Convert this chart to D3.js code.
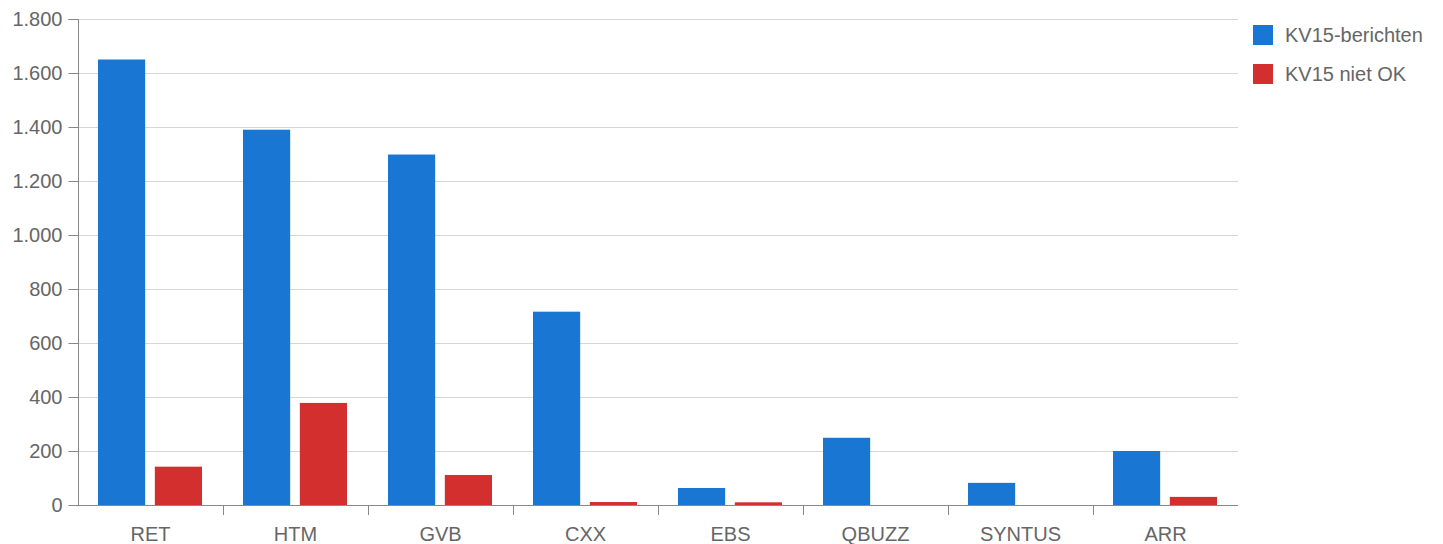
<!DOCTYPE html>
<html><head><meta charset="utf-8">
<script src="https://cdn.jsdelivr.net/npm/d3@7"></script>
<style>body{margin:0;background:#fff;font-family:"Liberation Sans",Arial,sans-serif;}</style>
</head><body><svg id="c" width="1443" height="544"></svg>
<script>
const categories = ["RET","HTM","GVB","CXX","EBS","QBUZZ","SYNTUS","ARR"];
const seriesNames = ["KV15-berichten","KV15 niet OK"];
const berichten = [1650,1390,1298,716,63,249,82,200];
const nietOK = [142,378,111,11,10,0,0,30];
const yTicks = [0,200,400,600,800,1000,1200,1400,1600,1800];
const colors = ["#1976d2","#d32f2f"];

const svg = d3.select("#c");
const m = {l:78, r:1238, t:19, b:505};
const x = d3.scaleBand().domain(categories).range([m.l,m.r]);
const xs = d3.scaleBand().domain([0,1]).range([20,124]).paddingInner(0.17);
const y = d3.scaleLinear().domain([0,1800]).range([m.b,m.t]);
const fmt = d3.formatLocale({decimal:",",thousands:".",grouping:[3],currency:["€",""]}).format(",d");
const FS = 20;

// gridlines
svg.append("g").selectAll("line").data(yTicks.filter(d=>d>0)).join("line")
  .attr("x1",m.l).attr("x2",m.r).attr("y1",d=>y(d)+0.5).attr("y2",d=>y(d)+0.5)
  .attr("stroke","#d6d6d6").attr("stroke-width",1);

// y axis
const ya = svg.append("g").attr("transform",`translate(${m.l+0.5},0)`)
  .call(d3.axisLeft(y).tickValues(yTicks).tickFormat(fmt).tickSize(10).tickPadding(6));
ya.select(".domain").attr("stroke","#888").attr("d",`M-10,${y(1800)+0.5}H0V${y(0)+0.5}`);
ya.selectAll(".tick line").attr("stroke","#888");
ya.selectAll(".tick text").attr("font-size",FS).attr("fill","#666").attr("font-family","Liberation Sans, Arial, sans-serif");

// bars
const data = categories.map((c,i)=>({c, v:[berichten[i],nietOK[i]]}));
const g = svg.append("g").selectAll("g").data(data).join("g").attr("transform",d=>`translate(${x(d.c)},0)`);
g.selectAll("rect").data(d=>d.v.map((v,k)=>({v,k}))).join("rect")
  .attr("x",d=>xs(d.k)).attr("width",xs.bandwidth())
  .attr("y",d=>y(d.v)).attr("height",d=>y(0)-y(d.v))
  .attr("fill",d=>colors[d.k]);

// x axis
const xa = svg.append("g").attr("transform",`translate(0,${m.b+0.5})`)
  .call(d3.axisBottom(x).tickSize(0).tickPadding(21));
xa.select(".domain").attr("stroke","#888").attr("d",`M${m.l},0H${m.r}`);
xa.selectAll(".tick text").attr("font-size",FS).attr("fill","#666").attr("font-family","Liberation Sans, Arial, sans-serif");
svg.append("g").selectAll("line").data(categories.slice(1)).join("line")
  .attr("x1",d=>Math.round(x(d))+0.5).attr("x2",d=>Math.round(x(d))+0.5)
  .attr("y1",m.b).attr("y2",m.b+10).attr("stroke","#888");

// legend
const lg = svg.append("g").attr("transform","translate(1253,25)");
const li = lg.selectAll("g").data(seriesNames).join("g").attr("transform",(d,i)=>`translate(0,${i*39})`);
li.append("rect").attr("width",20).attr("height",20).attr("fill",(d,i)=>colors[i]);
li.append("text").attr("x",32).attr("y",10).attr("dy","0.35em").attr("font-size",FS).attr("fill","#666").text(d=>d);
</script></body></html>
